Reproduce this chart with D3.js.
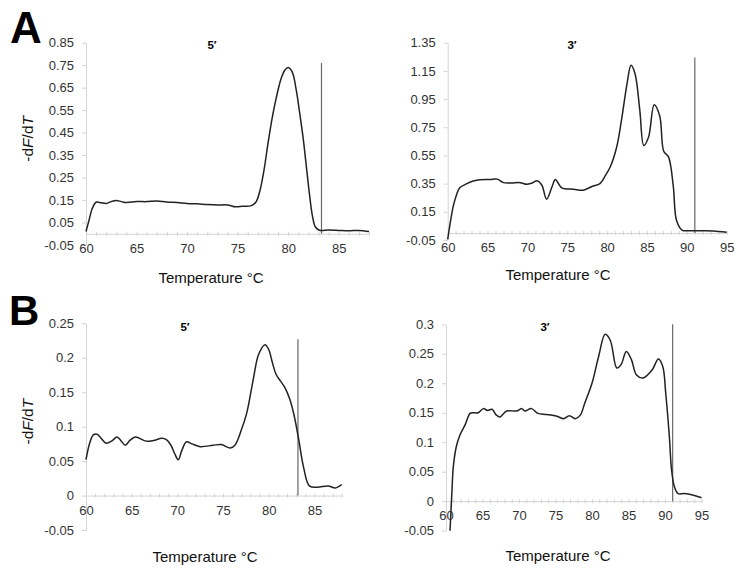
<!DOCTYPE html>
<meta charset="utf-8">
<script src="https://d3js.org/d3.v7.min.js"></script>
<style>
  body { margin: 0; background: #fff; }
  text { font-family: "Liberation Sans", Arial, sans-serif; }
</style>
<div id="my_dataviz"></div>
<script>

// melt curves: [temperature, -dF/dT]
var curveA5 = [
  [60, 0.01], [60.3, 0.06], [60.6, 0.11], [61, 0.14], [61.5, 0.138], [62, 0.135],
  [62.5, 0.143], [63, 0.148], [63.5, 0.143], [64, 0.139], [65, 0.143], [66, 0.143],
  [67, 0.146], [68, 0.141], [69, 0.139], [70, 0.135], [71, 0.133], [72, 0.13],
  [73, 0.128], [74, 0.128], [74.8, 0.12], [75.5, 0.122], [76.3, 0.124], [76.8, 0.14],
  [77.2, 0.19], [77.6, 0.28], [78, 0.4], [78.4, 0.51], [78.8, 0.6], [79.3, 0.69],
  [79.7, 0.73], [80, 0.74], [80.4, 0.72], [80.8, 0.64], [81.1, 0.55], [81.5, 0.42],
  [81.8, 0.3], [82.1, 0.18], [82.4, 0.08], [82.7, 0.03], [83.1, 0.016], [84, 0.017],
  [85, 0.015], [86, 0.013], [87, 0.015], [88, 0.01]
];
var curveA3 = [
  [60, -0.045], [60.4, 0.1], [60.7, 0.19], [61.1, 0.27], [61.5, 0.32], [62.4, 0.35],
  [63.3, 0.37], [64, 0.378], [65.3, 0.38], [66.2, 0.382], [67, 0.357], [68, 0.355],
  [69.1, 0.357], [69.9, 0.345], [70.6, 0.355], [71.2, 0.37], [71.8, 0.34], [72.4, 0.24],
  [73.1, 0.33], [73.5, 0.38], [74.3, 0.32], [75.8, 0.31], [77, 0.303], [78.1, 0.33],
  [79.1, 0.35], [79.7, 0.4], [80.4, 0.47], [81.2, 0.61], [81.8, 0.8], [82.5, 1.06],
  [83, 1.19], [83.5, 1.13], [84.1, 0.87], [84.6, 0.62], [85.2, 0.68], [85.9, 0.91],
  [86.6, 0.83], [87.1, 0.58], [87.7, 0.54], [88.3, 0.33], [88.7, 0.09], [89.4, 0.02],
  [90.4, 0.016], [92, 0.015], [93.3, 0.014], [95, 0.005]
];
var curveB5 = [
  [60, 0.052], [60.4, 0.076], [60.8, 0.088], [61.2, 0.089], [61.6, 0.084], [62.2, 0.076],
  [62.8, 0.079], [63.4, 0.085], [63.8, 0.08], [64.3, 0.073], [64.8, 0.08], [65.4, 0.085],
  [66.6, 0.079], [67.4, 0.08], [68.3, 0.083], [68.8, 0.081], [69.3, 0.073], [69.7, 0.061],
  [70.1, 0.052], [70.5, 0.066], [71, 0.078], [71.6, 0.075], [72.5, 0.071], [73.9, 0.073],
  [74.8, 0.074], [75.8, 0.069], [76.3, 0.073], [77, 0.095], [77.6, 0.12], [78.3, 0.168],
  [78.9, 0.205], [79.6, 0.219], [80, 0.212], [80.4, 0.193], [80.8, 0.176], [81.3, 0.166],
  [81.8, 0.156], [82.3, 0.14], [82.75, 0.118], [83.25, 0.084], [83.8, 0.042], [84.45, 0.014],
  [85.3, 0.012], [86.5, 0.014], [87.3, 0.011], [88, 0.016]
];
var curveB3 = [
  [60.55, -0.05], [60.8, 0.013], [61, 0.058], [61.4, 0.092], [61.9, 0.112], [62.6, 0.129],
  [63.3, 0.149], [63.7, 0.15], [64.4, 0.15], [65.1, 0.157], [65.7, 0.154], [66.3, 0.156],
  [66.9, 0.146], [67.4, 0.143], [68.3, 0.153], [69.7, 0.153], [70.4, 0.157], [70.8, 0.153],
  [71.7, 0.157], [72.6, 0.149], [73.8, 0.147], [75.2, 0.144], [76.1, 0.14], [76.9, 0.145],
  [77.7, 0.14], [78.4, 0.146], [79, 0.166], [80, 0.2], [80.9, 0.245], [81.8, 0.283],
  [82.5, 0.273], [83.4, 0.226], [84, 0.232], [84.7, 0.254], [85.4, 0.24], [86.1, 0.214],
  [87, 0.209], [88.2, 0.222], [89.1, 0.241], [89.7, 0.228], [90.1, 0.183], [90.6, 0.109],
  [90.9, 0.053], [91.3, 0.024], [91.8, 0.013], [92.7, 0.013], [93.9, 0.01], [95, 0.006]
];

// vertical marker lines: [temperature, top value]
var markerA5 = [83.3, 0.76];
var markerA3 = [91.0, 1.245];
var markerB5 = [83.2, 0.227];
var markerB3 = [91.05, 0.3];

// tick labels
var yTicksA5 = ["-0.05", "0.05", "0.15", "0.25", "0.35", "0.45", "0.55", "0.65", "0.75", "0.85"];
var yTicksA3 = ["-0.05", "0.15", "0.35", "0.55", "0.75", "0.95", "1.15", "1.35"];
var yTicksB5 = ["-0.05", "0", "0.05", "0.1", "0.15", "0.2", "0.25"];
var yTicksB3 = ["-0.05", "0", "0.05", "0.1", "0.15", "0.2", "0.25", "0.3"];
var xTicks88 = [60, 65, 70, 75, 80, 85];
var xTicks95 = [60, 65, 70, 75, 80, 85, 90, 95];

var panels = [
  {curve: curveA5, marker: markerA5, yTicks: yTicksA5, xTicks: xTicks88, xMax: 88,
   left: 86, right: 369, top: 42.7, bottom: 245, title: "5\u2032", tx: 212, ty: 49, ylab: true, lx: 211, ly: 283},
  {curve: curveA3, marker: markerA3, yTicks: yTicksA3, xTicks: xTicks95, xMax: 95,
   left: 447.7, right: 726.7, top: 42.7, bottom: 240, title: "3\u2032", tx: 572, ty: 49, ylab: false, lx: 558, ly: 280},
  {curve: curveB5, marker: markerB5, yTicks: yTicksB5, xTicks: xTicks88, xMax: 88,
   left: 86, right: 341.8, top: 323.3, bottom: 530, title: "5\u2032", tx: 185, ty: 331, ylab: true, lx: 205, ly: 562},
  {curve: curveB3, marker: markerB3, yTicks: yTicksB3, xTicks: xTicks95, xMax: 95,
   left: 446, right: 701.5, top: 324.3, bottom: 530.7, title: "3\u2032", tx: 545, ty: 331, ylab: false, lx: 558, ly: 561}
];

var svg = d3.select("#my_dataviz")
  .append("svg")
    .attr("width", 745)
    .attr("height", 576)
    .style("background", "#fff");

panels.forEach(function(p) {
  var yVals = p.yTicks.map(Number);
  var x = d3.scaleLinear().domain([60, p.xMax]).range([p.left, p.right]);
  var y = d3.scaleLinear().domain([d3.min(yVals), d3.max(yVals)]).range([p.bottom, p.top]);
  var g = svg.append("g");

  // Y axis
  var ya = g.append("g")
    .attr("transform", "translate(" + p.left + ",0)")
    .call(d3.axisLeft(y).tickValues(yVals).tickSizeInner(4).tickSizeOuter(0).tickPadding(8)
      .tickFormat(function(d, i) { return p.yTicks[i]; }));
  ya.select(".domain").attr("stroke", "#d4d4d4");
  ya.selectAll(".tick line").attr("stroke", "#d4d4d4");
  ya.selectAll(".tick text").attr("fill", "#333").style("font-size", "13px");

  // X axis at zero, minor ticks every degree
  var xa = g.append("g")
    .attr("transform", "translate(0," + y(0) + ")")
    .call(d3.axisBottom(x).tickValues(d3.range(60, p.xMax + 1, 1)).tickSizeOuter(0)
      .tickFormat(function(d) { return p.xTicks.indexOf(d) >= 0 ? d : ""; }));
  xa.select(".domain").attr("stroke", "#d4d4d4");
  xa.selectAll(".tick line").attr("stroke", "#d4d4d4").attr("y1", -2).attr("y2", 2);
  xa.selectAll(".tick text").attr("fill", "#333").style("font-size", "13px")
    .attr("y", 19).attr("dy", 0);

  // marker line
  g.append("line")
    .attr("x1", x(p.marker[0])).attr("x2", x(p.marker[0]))
    .attr("y1", y(0)).attr("y2", y(p.marker[1]))
    .attr("stroke", "#666").attr("stroke-width", 1.2);

  // curve
  g.append("path")
    .datum(p.curve)
    .attr("fill", "none")
    .attr("stroke", "#222")
    .attr("stroke-width", 1.5)
    .attr("d", d3.line()
      .x(function(d) { return x(d[0]); })
      .y(function(d) { return y(d[1]); })
      .curve(d3.curveCatmullRom.alpha(0.5)));

  // panel title
  g.append("text")
    .attr("x", p.tx).attr("y", p.ty)
    .attr("text-anchor", "middle")
    .style("font-size", "11.5px").style("font-weight", "bold")
    .text(p.title);

  // axis titles
  g.append("text")
    .attr("x", p.lx).attr("y", p.ly)
    .attr("text-anchor", "middle")
    .style("font-size", "15px").attr("fill", "#111")
    .text("Temperature \u00B0C");

  if (p.ylab) {
    var yl = g.append("text")
      .attr("transform", "translate(33," + ((p.top + p.bottom) / 2 - 5) + ") rotate(-90)")
      .attr("text-anchor", "middle")
      .style("font-size", "15.5px").attr("fill", "#111");
    yl.append("tspan").text("-d");
    yl.append("tspan").style("font-style", "italic").text("F");
    yl.append("tspan").text("/d");
    yl.append("tspan").style("font-style", "italic").text("T");
  }
});

// panel letters
svg.append("text").attr("x", 10).attr("y", 43)
  .style("font-size", "44px").style("font-weight", "bold").text("A");
svg.append("text").attr("x", 9).attr("y", 325)
  .style("font-size", "42px").style("font-weight", "bold").text("B");

</script>
